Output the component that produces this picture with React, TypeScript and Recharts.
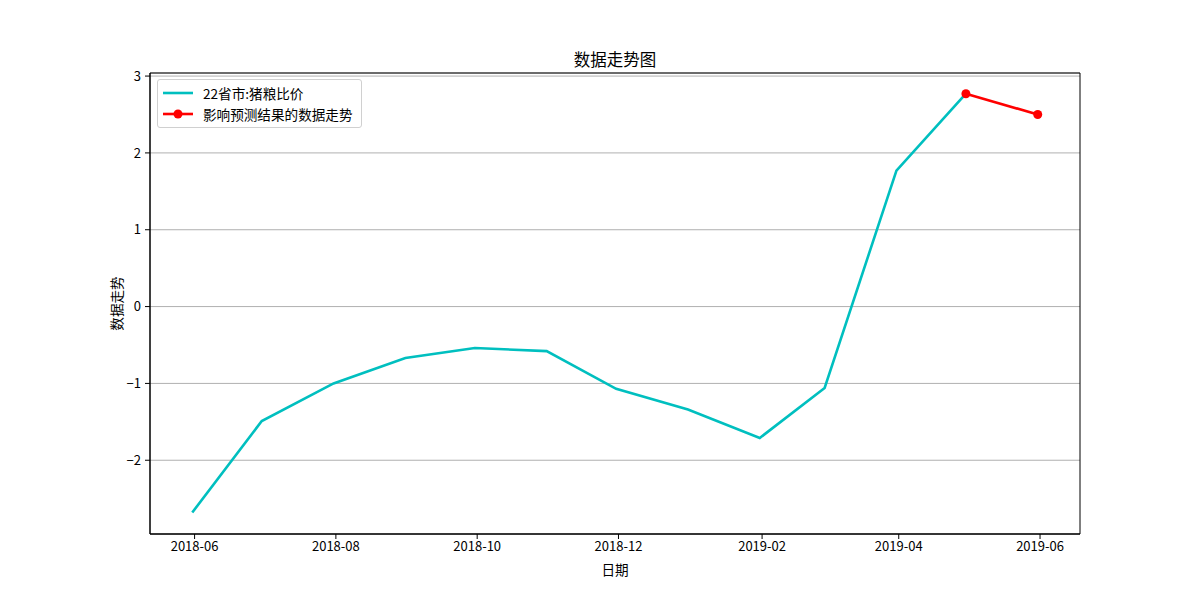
import React from 'react';
import { LineChart, Line, XAxis, YAxis, CartesianGrid, Legend, ReferenceArea } from 'recharts';

const FONT = '"Noto Sans CJK SC", "DejaVu Sans", sans-serif';

const cyanName = '22省市:猪粮比价';
const redName = '影响预测结果的数据走势';
const chartTitle = '数据走势图';
const xLabel = '日期';
const yLabel = '数据走势';

const cyanDates = [
  '2018-05-31', '2018-06-30', '2018-07-31', '2018-08-31', '2018-09-30', '2018-10-31',
  '2018-11-30', '2018-12-31', '2019-01-31', '2019-02-28', '2019-03-31', '2019-04-30',
];
const cyanValues = [-2.68, -1.49, -1.0, -0.67, -0.54, -0.58, -1.07, -1.34, -1.71, -1.06, 1.77, 2.77];

const redDates = ['2019-04-30', '2019-05-31'];
const redValues = [2.77, 2.5];

const xTickDates = ['2018-06-01', '2018-08-01', '2018-10-01', '2018-12-01', '2019-02-01', '2019-04-01', '2019-06-01'];
const yTicks = [-2, -1, 0, 1, 2, 3];
const yDomain = [-2.96, 3.04];

const toMs = (s: string) => {
  const [y, m, d] = s.split('-').map(Number);
  return Date.UTC(y, m - 1, d);
};

const cyanData = cyanDates.map((d, i) => ({ t: toMs(d), v: cyanValues[i] }));
const redData = redDates.map((d, i) => ({ t: toMs(d), v: redValues[i] }));
const xTicks = xTickDates.map(toMs);

const tMin = toMs(cyanDates[0]);
const tMax = toMs(redDates[redDates.length - 1]);
const pad = (tMax - tMin) * 0.05;
const xDomain = [tMin - pad, tMax + pad];

const fmtDate = (ms: number) => {
  const d = new Date(ms);
  const m = d.getUTCMonth() + 1;
  return `${d.getUTCFullYear()}-${m < 10 ? '0' + m : m}`;
};
const fmtY = (v: number) => (v < 0 ? '\u2212' + Math.abs(v) : String(v));

const legendItems = [
  { name: cyanName, color: '#00bfbf', marker: false },
  { name: redName, color: '#ff0000', marker: true },
];

const renderLegend = () => (
  <div
    style={{
      border: '1px solid #d0d0d0',
      borderRadius: 3,
      background: 'rgba(255,255,255,0.8)',
      padding: '3px 8px 3px 5px',
      fontFamily: FONT,
      fontSize: 13.6,
      color: '#000',
    }}
  >
    {legendItems.map((it) => (
      <div key={it.name} style={{ display: 'flex', alignItems: 'center', height: 20.5 }}>
        <svg width={30} height={12} style={{ marginRight: 10 }}>
          <line x1={0} y1={6} x2={30} y2={6} stroke={it.color} strokeWidth={2.6} />
          {it.marker && <circle cx={15} cy={6} r={4.5} fill={it.color} />}
        </svg>
        <span style={{ lineHeight: '20px' }}>{it.name}</span>
      </div>
    ))}
  </div>
);

const YLabel = (props: any) => {
  const vb = props.viewBox || {};
  const x = vb.x + vb.width - 34;
  const y = vb.y + vb.height / 2;
  return (
    <text
      x={x}
      y={y}
      transform={`rotate(-90, ${x}, ${y})`}
      textAnchor="middle"
      dominantBaseline="central"
      fontFamily={FONT}
      fontSize={13.6}
      fill="#000"
    >
      {yLabel}
    </text>
  );
};

const XLabel = (props: any) => {
  const vb = props.viewBox || {};
  const x = vb.x + vb.width / 2;
  const y = vb.y + 35;
  return (
    <text x={x} y={y} textAnchor="middle" dominantBaseline="central" fontFamily={FONT} fontSize={13.6} fill="#000">
      {xLabel}
    </text>
  );
};

export default function App() {
  return (
    <div style={{ position: 'absolute', left: 0, top: 0, width: 1200, height: 600, background: '#fff', fontFamily: FONT }}>
      <div
        style={{
          position: 'absolute',
          left: 150,
          width: 930,
          top: 48,
          textAlign: 'center',
          fontSize: 16.5,
          lineHeight: '22px',
          color: '#000',
        }}
      >
        {chartTitle}
      </div>
      <LineChart width={1200} height={600} margin={{ top: 73, right: 120, bottom: 0, left: 0 }}>
        <CartesianGrid horizontal vertical={false} stroke="#b0b0b0" strokeWidth={1} />
        <XAxis
          dataKey="t"
          type="number"
          domain={xDomain}
          ticks={xTicks}
          tickFormatter={fmtDate}
          allowDataOverflow
          height={66}
          tickSize={5}
          tickMargin={3}
          axisLine={{ stroke: '#000', strokeWidth: 1 }}
          tickLine={{ stroke: '#000' }}
          tick={{ fill: '#000', fontSize: 13, fontFamily: FONT }}
          label={<XLabel />}
        />
        <YAxis
          type="number"
          domain={yDomain}
          ticks={yTicks}
          allowDataOverflow
          width={150}
          tickSize={5}
          tickMargin={4}
          tickFormatter={fmtY}
          axisLine={{ stroke: '#000', strokeWidth: 1 }}
          tickLine={{ stroke: '#000' }}
          tick={{ fill: '#000', fontSize: 13, fontFamily: FONT }}
          label={<YLabel />}
        />
        <ReferenceArea
          x1={xDomain[0]}
          x2={xDomain[1]}
          y1={yDomain[0]}
          y2={yDomain[1]}
          fill="none"
          fillOpacity={0}
          stroke="#000"
          strokeWidth={1}
          ifOverflow="visible"
        />
        <Legend
          content={renderLegend}
          layout="vertical"
          align="center"
          verticalAlign="middle"
          wrapperStyle={{ left: 157, top: 79, width: 'auto' }}
        />
        <Line
          data={cyanData}
          dataKey="v"
          name={cyanName}
          stroke="#00bfbf"
          strokeWidth={2.6}
          dot={false}
          activeDot={false}
          isAnimationActive={false}
        />
        <Line
          data={redData}
          dataKey="v"
          name={redName}
          stroke="#ff0000"
          strokeWidth={2.6}
          dot={{ r: 4.5, fill: '#ff0000', stroke: '#ff0000', strokeWidth: 0 }}
          activeDot={false}
          isAnimationActive={false}
        />
      </LineChart>
    </div>
  );
}
